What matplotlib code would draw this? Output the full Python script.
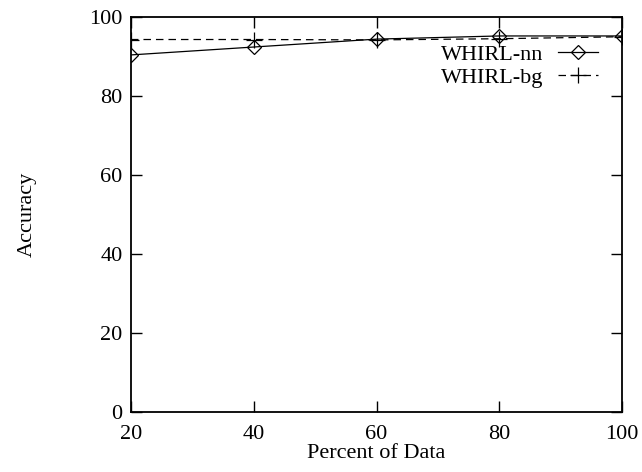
import matplotlib
matplotlib.use('Agg')
import matplotlib.pyplot as plt

# accuracy vs. amount of training data
percent = [20, 40, 60, 80, 100]
whirl_nn = [90.4, 92.4, 94.4, 95.2, 95.2]
whirl_bg = [94.3, 94.3, 94.2, 94.5, 95.0]

plt.rcParams['font.family'] = ['Liberation Serif', 'DejaVu Serif']
plt.rcParams['font.size'] = 16

fig = plt.figure(figsize=(6.42, 4.72), dpi=100)
ax = fig.add_axes([0.204, 0.127, 0.765, 0.837])

ax.plot(percent, whirl_nn, color='black', lw=0.9, marker='D', markersize=7,
        markerfacecolor='none', markeredgewidth=0.9, label='WHIRL-nn')
ax.plot(percent, whirl_bg, color='black', lw=0.9, ls=(0, (6, 4)), marker='+',
        markersize=11, markeredgewidth=0.9, label='WHIRL-bg')

ax.set_xlim(20, 100)
ax.set_ylim(0, 100)
ax.set_xticks([20, 40, 60, 80, 100])
ax.set_yticks([0, 20, 40, 60, 80, 100])
ax.tick_params(direction='in', length=8, width=1, top=True, right=True)
ax.tick_params(axis='x', pad=9)
ax.tick_params(axis='y', pad=6)
for s in ax.spines.values():
    s.set_linewidth(1.3)

ax.set_xlabel('Percent of Data', labelpad=0)
ax.set_ylabel('Accuracy', labelpad=38)

ax.legend(loc='upper right', bbox_to_anchor=(0.95, 0.93), frameon=False, markerfirst=False,
          handlelength=1.8, borderaxespad=0, borderpad=0, labelspacing=0.1,
          handletextpad=0.65)

fig.savefig('out.png', dpi=100)
